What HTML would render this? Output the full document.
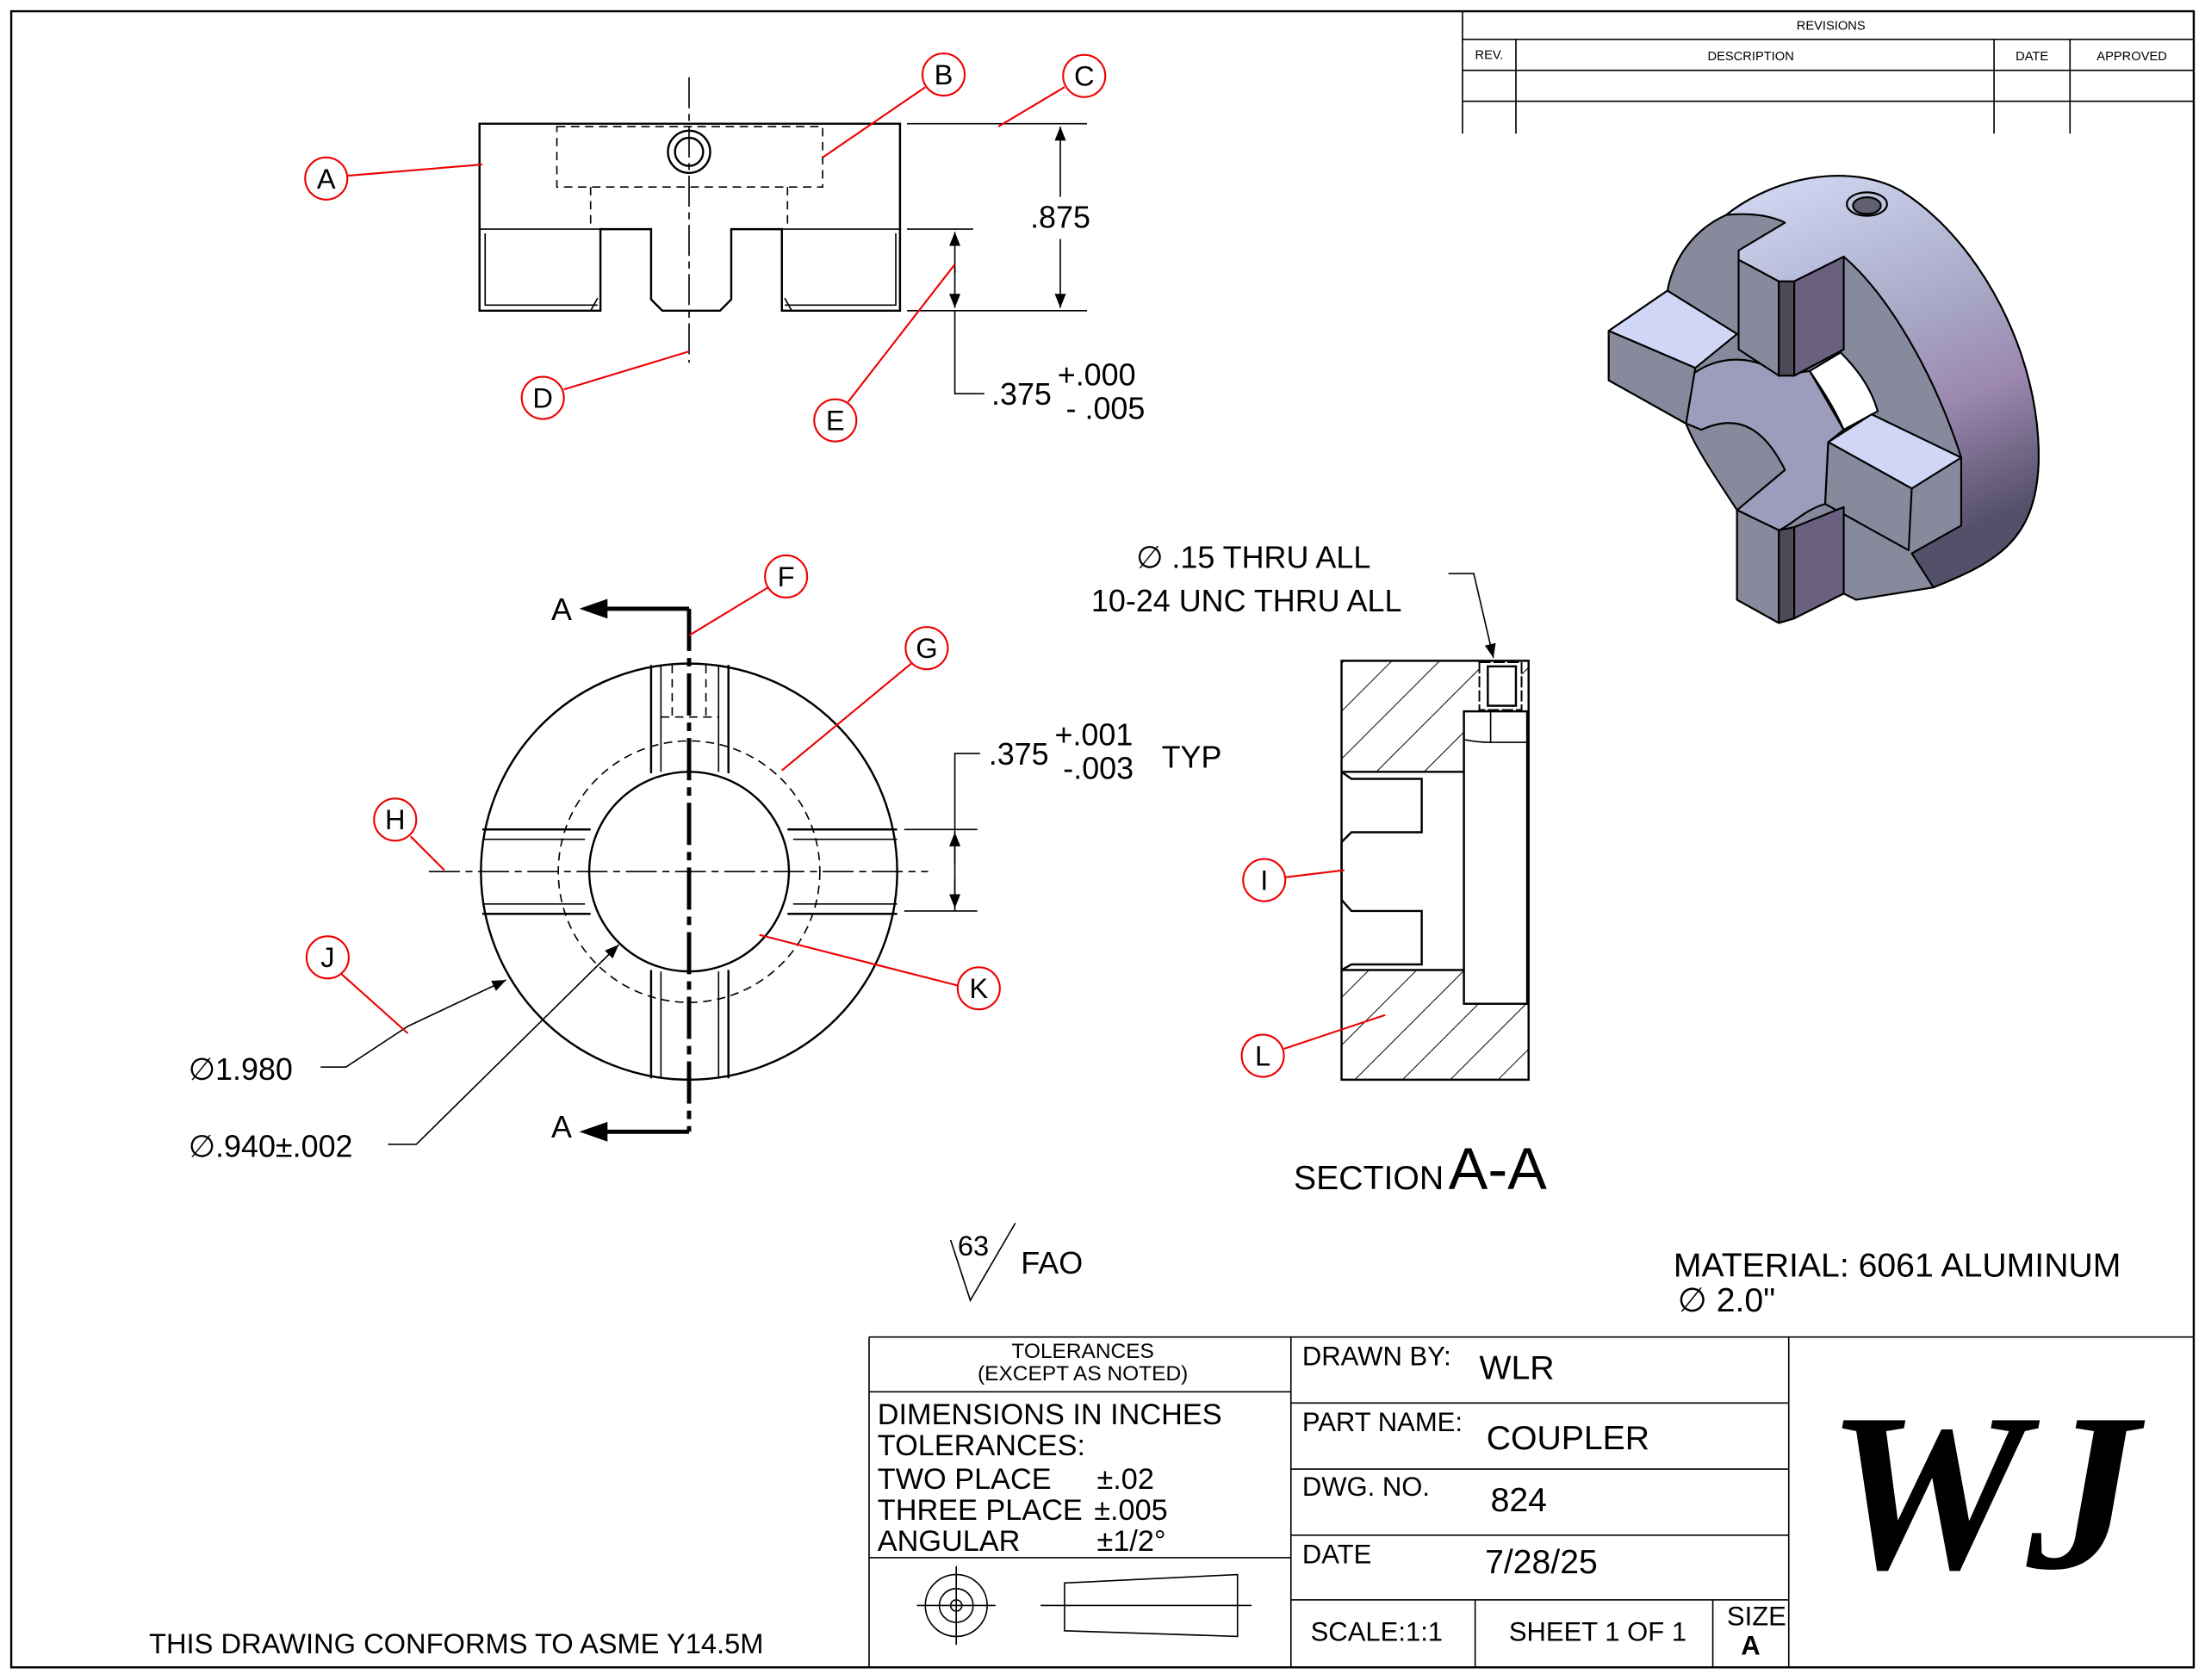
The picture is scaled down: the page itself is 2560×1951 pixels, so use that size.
<!DOCTYPE html>
<html><head><meta charset="utf-8"><style>
html,body{margin:0;padding:0;background:#fff;}
svg{display:block}
text{font-family:"Liberation Sans",sans-serif;fill:#000}
.r{fill:none;stroke:#e00;stroke-width:1.3}
.rt{fill:#e00;font-size:20px;text-anchor:middle}
.k{fill:none;stroke:#000;stroke-width:1.5}
.t{fill:none;stroke:#000;stroke-width:1}
.d{fill:none;stroke:#000;stroke-width:1;stroke-dasharray:6 4}
.c{fill:none;stroke:#000;stroke-width:1;stroke-dasharray:22 4 5 4}
</style></head><body>
<svg width="2560" height="1951" viewBox="0 0 1568 1195" preserveAspectRatio="none" xmlns="http://www.w3.org/2000/svg">
<defs>
<marker id="ar" markerWidth="10" markerHeight="8" refX="10" refY="4" orient="auto" markerUnits="userSpaceOnUse"><path d="M0,0 L10,4 L0,8 Z" fill="#000"/></marker>
<pattern id="h" width="24" height="24" patternUnits="userSpaceOnUse" patternTransform="rotate(45)"><line x1="0" y1="0" x2="0" y2="24" stroke="#000" stroke-width="1.2"/></pattern>
<linearGradient id="g1" x1="0" y1="0" x2="0.3" y2="1"><stop offset="0" stop-color="#d6dcf7"/><stop offset="0.45" stop-color="#a9abc8"/><stop offset="0.7" stop-color="#9c88b0"/><stop offset="1" stop-color="#55506a"/></linearGradient>
</defs>
<rect x="0" y="0" width="1568" height="1195" fill="#fff"/>
<rect x="8" y="8" width="1552" height="1178" class="k"/>
<!-- revisions -->
<g class="t">
<path d="M1040,8 V95 M1040,28 H1560 M1040,50 H1560 M1040,72 H1560 M1078,28 V95 M1418,28 V95 M1472,28 V95"/>
</g>
<text x="1302" y="21" font-size="9" text-anchor="middle">REVISIONS</text>
<text x="1059" y="42" font-size="9" text-anchor="middle">REV.</text>
<text x="1245" y="43" font-size="9" text-anchor="middle">DESCRIPTION</text>
<text x="1445" y="43" font-size="9" text-anchor="middle">DATE</text>
<text x="1516" y="43" font-size="9" text-anchor="middle">APPROVED</text>

<!-- top view -->
<path class="k" d="M341,88 H640 V221 H556 V163 H520 V213 L512,221 H471 L463,213 V163 H427 V221 H341 Z"/>
<path class="t" d="M341,163 H427 M556,163 H640 M345,166 V217 H425 M558,217 H637 V166 M425,212 L420,221 M558,212 L563,221"/>
<rect x="396" y="90" width="189" height="43" class="d"/>
<path class="d" d="M420,133 V163 M560,133 V163"/>
<circle cx="490" cy="108" r="15" class="k" stroke-width="2"/><circle cx="490" cy="108" r="10" class="k"/>
<line x1="490" y1="55" x2="490" y2="258" class="c"/>
<path class="t" d="M645,88 H773 M645,221 H773 M645,163 H692"/>
<line x1="754" y1="140" x2="754" y2="90" class="t" marker-end="url(#ar)"/>
<line x1="754" y1="170" x2="754" y2="219" class="t" marker-end="url(#ar)"/>
<text x="754" y="162" font-size="22" text-anchor="middle">.875</text>
<line x1="679" y1="195" x2="679" y2="165" class="t" marker-end="url(#ar)"/>
<line x1="679" y1="190" x2="679" y2="219" class="t" marker-end="url(#ar)"/>
<path class="t" d="M679,221 V280 H700"/>
<text x="705" y="288" font-size="22">.375</text>
<text x="752" y="274" font-size="22">+.000</text>
<text x="758" y="298" font-size="22">- .005</text>

<!-- front view -->
<circle cx="490" cy="620" r="148" class="k"/>
<circle cx="490" cy="620" r="93" class="d"/>
<path class="k" d="M343,590 H420 M343,650 H420 M560,590 H638 M560,650 H638 M463,473 V550 M518,473 V550 M463,690 V767 M518,690 V767"/>
<path class="t" d="M343,597 H416 M343,643 H416 M564,597 H638 M564,643 H638 M470,473 V549 M511,473 V549 M470,691 V767 M511,691 V767"/>
<circle cx="490" cy="620" r="71" style="fill:#fff;stroke:#000;stroke-width:1.5"/>
<path class="d" d="M478,473 V510 M502,473 V510 M470,510 H511"/>
<line x1="305" y1="620" x2="660" y2="620" class="c"/>
<path d="M490,433 V805" stroke="#000" stroke-width="3" stroke-dasharray="30 5 6 5" fill="none"/>
<path d="M490,433 H430 M490,805 H430" stroke="#000" stroke-width="3" fill="none"/>
<path d="M412,433 L432,426 L432,440Z M412,805 L432,798 L432,812Z" fill="#000"/>
<text x="392" y="441" font-size="22">A</text>
<text x="392" y="809" font-size="22">A</text>
<path class="t" d="M643,590 H695 M643,648 H695 M679,648 V536 H697"/>
<line x1="679" y1="615" x2="679" y2="592" class="t" marker-end="url(#ar)"/>
<line x1="679" y1="625" x2="679" y2="646" class="t" marker-end="url(#ar)"/>
<text x="703" y="544" font-size="22">.375</text>
<text x="750" y="530" font-size="22">+.001</text>
<text x="756" y="554" font-size="22">-.003</text>
<text x="826" y="546" font-size="22">TYP</text>
<path class="t" d="M228,759 H246 L290,730 L360,697" marker-end="url(#ar)"/>
<text x="134" y="768" font-size="22">∅1.980</text>
<path class="t" d="M276,814 H296 L440,672" marker-end="url(#ar)"/>
<text x="134" y="823" font-size="22">∅.940±.002</text>

<!-- section -->
<rect x="954" y="470" width="133" height="298" style="fill:url(#h);stroke:none"/>
<path style="fill:#fff;stroke:none" d="M952,549 H1041 V690 H952 Z"/>
<path style="fill:#fff;stroke:#000;stroke-width:1.5" d="M954,549 L961,554 H1011 V592 H961 L954,599 V640 L961,648 H1011 V686 H961 L954,690"/>
<path class="k" d="M954,549 H1041 M954,690 H1041"/>
<rect x="1041" y="506" width="45" height="208" style="fill:#fff;stroke:#000;stroke-width:1.5"/>
<path class="t" d="M1041,526 Q1050,528 1060,528 H1086 M1060,506 V528"/>
<rect x="1052" y="471" width="30" height="34" style="fill:#fff;stroke:#000;stroke-width:1.2;stroke-dasharray:8 2"/>
<rect x="1058" y="474" width="20" height="28" style="fill:#fff;stroke:#000;stroke-width:1.5"/>
<path class="k" d="M954,470 H1087 V768 H954 Z"/>
<path class="t" d="M1030,408 H1048 L1062,468" marker-end="url(#ar)"/>
<text x="808" y="404" font-size="22">∅ .15 THRU ALL</text>
<text x="776" y="435" font-size="22">10-24 UNC  THRU ALL</text>
<text x="920" y="846" font-size="24">SECTION</text>
<text x="1030" y="846" font-size="42">A-A</text>

<!-- 3D -->
<svg x="1133" y="110" width="343" height="343" viewBox="0 0 1560 1560">
<g stroke="#000" stroke-width="6" stroke-linejoin="round">
<path fill="#878a9c" d="M430,195 C600,60 850,30 1000,120 C1250,280 1450,650 1440,1000 C1430,1250 1300,1320 1100,1400 L850,1440 L810,1420 L650,1500 L600,1515 L465,1440 L465,1150 C400,1050 330,950 300,870 L50,730 L50,570 L240,440 C260,330 330,240 430,195 Z"/>
<path fill="url(#g1)" d="M430,195 C600,60 850,30 1000,120 C1250,280 1450,650 1440,1000 C1430,1250 1300,1320 1100,1400 L1030,1290 L1190,1200 L1190,980 C1100,700 950,450 810,330 L650,410 L600,410 L470,340 L470,310 L620,220 C560,190 480,190 430,195 Z"/>
<path fill="#9d9cbc" d="M310,720 C400,640 540,650 600,715 L700,700 L810,890 L760,930 L750,1130 C680,1150 640,1200 600,1215 L465,1150 L620,1020 C560,900 480,830 350,890 L300,870 Z"/>
<path fill="#fff" d="M700,700 L800,640 C860,700 900,760 920,830 L810,890 C780,820 740,760 700,700 Z"/>
<path fill="#868a9c" d="M470,340 L600,410 L600,715 L470,630 Z"/>
<path fill="#4a4a58" d="M600,410 L650,410 L650,715 L600,715 Z"/>
<path fill="#6a6080" d="M650,410 L810,330 L810,630 L650,715 Z"/>
<path fill="#d0d6f5" d="M50,570 L240,440 L465,580 L330,690 Z"/>
<path fill="#868a9c" d="M50,570 L330,690 L300,870 L50,730 Z"/>
<path fill="#d0d6f5" d="M760,930 L900,840 L1190,980 L1030,1080 Z"/>
<path fill="#868a9c" d="M760,930 L1030,1080 L1020,1280 L750,1130 Z"/>
<path fill="#868a9c" d="M465,1150 L600,1215 L600,1515 L465,1440 Z"/>
<path fill="#4a4a58" d="M600,1215 L650,1205 L650,1500 L600,1515 Z"/>
<path fill="#6a6080" d="M650,1205 L810,1140 L810,1420 L650,1500 Z"/>
<ellipse cx="885" cy="160" rx="65" ry="38" fill="#c0c4dc"/>
<ellipse cx="885" cy="165" rx="45" ry="27" fill="#606070"/>
</g>
</svg>

<!-- red callouts -->
<g class="r">
<circle cx="232" cy="127" r="15"/><line x1="247" y1="125" x2="343" y2="117"/>
<circle cx="671" cy="53" r="15"/><line x1="658" y1="62" x2="585" y2="112"/>
<circle cx="771" cy="54" r="15"/><line x1="757" y1="62" x2="710" y2="90"/>
<circle cx="386" cy="283" r="15"/><line x1="401" y1="277" x2="490" y2="250"/>
<circle cx="594" cy="299" r="15"/><line x1="603" y1="286" x2="679" y2="188"/>
<circle cx="559" cy="410" r="15"/><line x1="546" y1="418" x2="490" y2="452"/>
<circle cx="659" cy="461" r="15"/><line x1="648" y1="472" x2="556" y2="548"/>
<circle cx="281" cy="583" r="15"/><line x1="292" y1="595" x2="316" y2="619"/>
<circle cx="233" cy="681" r="15"/><line x1="243" y1="693" x2="290" y2="735"/>
<circle cx="696" cy="703" r="15"/><line x1="681" y1="701" x2="540" y2="665"/>
<circle cx="899" cy="626" r="15"/><line x1="914" y1="624" x2="956" y2="619"/>
<circle cx="898" cy="751" r="15"/><line x1="913" y1="746" x2="985" y2="722"/>
</g>
<g class="rt">
<text x="232" y="134">A</text><text x="671" y="60">B</text><text x="771" y="61">C</text>
<text x="386" y="290">D</text><text x="594" y="306">E</text><text x="559" y="417">F</text>
<text x="659" y="468">G</text><text x="281" y="590">H</text><text x="233" y="688">J</text>
<text x="696" y="710">K</text><text x="899" y="633">I</text><text x="898" y="758">L</text>
</g>

<!-- surface finish -->
<path class="t" d="M676,882 L690,925 L722,870"/>
<text x="681" y="893" font-size="20">63</text>
<text x="726" y="906" font-size="22">FAO</text>
<text x="1190" y="908" font-size="24">MATERIAL: 6061 ALUMINUM</text>
<text x="1193" y="933" font-size="24">∅ 2.0"</text>
<text x="106" y="1176" font-size="20">THIS DRAWING CONFORMS TO ASME Y14.5M</text>

<!-- title block -->
<g class="t" stroke-width="1.3">
<path d="M618,951 H1560 M618,951 V1186 M918,951 V1186 M1272,951 V1186 M618,990 H918 M618,1108 H918 M918,998 H1272 M918,1045 H1272 M918,1092 H1272 M918,1138 H1272 M1049,1138 V1186 M1218,1138 V1186"/>
</g>
<text x="770" y="966" font-size="15" text-anchor="middle">TOLERANCES</text>
<text x="770" y="982" font-size="15" text-anchor="middle">(EXCEPT AS NOTED)</text>
<g font-size="21">
<text x="624" y="1013">DIMENSIONS IN INCHES</text>
<text x="624" y="1035">TOLERANCES:</text>
<text x="624" y="1059">TWO PLACE</text><text x="780" y="1059">±.02</text>
<text x="624" y="1081">THREE PLACE</text><text x="778" y="1081">±.005</text>
<text x="624" y="1103">ANGULAR</text><text x="780" y="1103">±1/2°</text>
</g>
<circle cx="680" cy="1142" r="22" class="t"/><circle cx="680" cy="1142" r="12" class="t"/><circle cx="680" cy="1142" r="4" class="t"/>
<path class="t" d="M652,1142 H708 M680,1114 V1170"/>
<path class="t" d="M757,1126 L880,1120 V1164 L757,1160 Z M740,1142 H890"/>
<g font-size="19">
<text x="926" y="971">DRAWN BY:</text>
<text x="926" y="1018">PART NAME:</text>
<text x="926" y="1064">DWG.  NO.</text>
<text x="926" y="1112">DATE</text>
<text x="932" y="1167">SCALE:1:1</text>
<text x="1073" y="1167">SHEET 1 OF 1</text>
<text x="1228" y="1156">SIZE</text>
<text x="1238" y="1177" font-weight="bold">A</text>
</g>
<g font-size="24">
<text x="1052" y="981">WLR</text>
<text x="1057" y="1031">COUPLER</text>
<text x="1060" y="1075">824</text>
<text x="1056" y="1119">7/28/25</text>
</g>
<text x="1410" y="1115" text-anchor="middle" style="font-family:'Liberation Serif',serif;font-style:italic;font-weight:bold;font-size:160px">WJ</text>
</svg>
</body></html>
